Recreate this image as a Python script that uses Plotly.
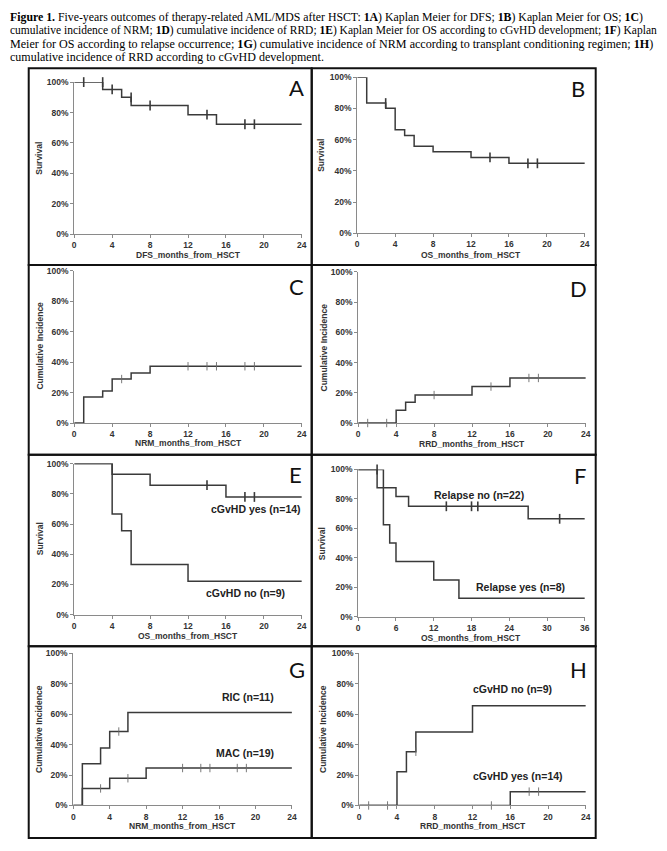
import plotly.graph_objects as go

W, H = 667, 851

# ---------------- data ----------------
# A: Kaplan Meier DFS
A_t = [0, 3, 5, 6, 12, 15, 24]
A_s = [1.0, 0.952, 0.900, 0.846, 0.786, 0.723, 0.723]
A_ct = [1, 3, 4, 6, 8, 14, 18, 19]
A_cs = [1.0, 1.0, 0.952, 0.900, 0.846, 0.786, 0.723, 0.723]

# B: Kaplan Meier OS
B_t = [0, 1, 3, 4, 5, 6, 8, 12, 16, 24]
B_s = [1.0, 0.834, 0.800, 0.663, 0.627, 0.558, 0.522, 0.486, 0.448, 0.448]
B_ct = [3, 14, 18, 19]
B_cs = [0.834, 0.486, 0.448, 0.448]

# C: cumulative incidence NRM
C_t = [0, 1, 3, 4, 6, 8, 24]
C_s = [0.0, 0.171, 0.210, 0.289, 0.328, 0.373, 0.373]
C_ct = [5, 12, 14, 15, 18, 19]
C_cs = [0.289, 0.373, 0.373, 0.373, 0.373, 0.373]

# D: cumulative incidence RRD
D_t = [0, 4, 5, 6, 12, 16, 24]
D_s = [0.0, 0.085, 0.137, 0.185, 0.241, 0.298, 0.298]
D_ct = [1, 3, 8, 14, 18, 19]
D_cs = [0.0, 0.0, 0.185, 0.241, 0.298, 0.298]

# E: OS by cGvHD
E_yes_t = [0, 4, 8, 16, 24]
E_yes_s = [1.0, 0.929, 0.857, 0.779, 0.779]
E_yes_ct = [14, 18, 19]
E_yes_cs = [0.857, 0.779, 0.779]
E_no_t = [0, 4, 5, 6, 12, 24]
E_no_s = [1.0, 0.667, 0.556, 0.333, 0.222, 0.222]

# F: OS by relapse
F_no_t = [0, 3, 6, 8, 27, 36]
F_no_s = [1.0, 0.876, 0.817, 0.750, 0.665, 0.665]
F_no_ct = [3, 14, 18, 19, 32]
F_no_cs = [1.0, 0.750, 0.750, 0.750, 0.665]
F_yes_t = [0, 4, 5, 6, 12, 16, 36]
F_yes_s = [1.0, 0.625, 0.500, 0.375, 0.250, 0.125, 0.125]

# G: NRM by conditioning
G_ric_t = [0, 1, 3, 4, 6, 24]
G_ric_s = [0.0, 0.274, 0.378, 0.486, 0.611, 0.611]
G_ric_ct = [5]
G_ric_cs = [0.486]
G_mac_t = [0, 1, 4, 8, 24]
G_mac_s = [0.0, 0.112, 0.179, 0.246, 0.246]
G_mac_ct = [3, 6, 12, 14, 15, 18, 19]
G_mac_cs = [0.112, 0.179, 0.246, 0.246, 0.246, 0.246, 0.246]

# H: RRD by cGvHD
H_no_t = [0, 4, 5, 6, 12, 24]
H_no_s = [0.0, 0.221, 0.353, 0.483, 0.656, 0.656]
H_no_ct = [6]
H_no_cs = [0.353]
H_yes_t = [0, 16, 24]
H_yes_s = [0.0, 0.091, 0.091]
H_yes_ct = [1, 3, 14, 18, 19]
H_yes_cs = [0.0, 0.0, 0.0, 0.091, 0.091]

y_ticks = [0, 0.2, 0.4, 0.6, 0.8, 1.0]

header_lines = [
    "<b>Figure 1.</b> Five-years outcomes of therapy-related AML/MDS after HSCT: <b>1A</b>) Kaplan Meier for DFS; <b>1B</b>) Kaplan Meier for OS; <b>1C</b>)",
    "cumulative incidence of NRM; <b>1D</b>) cumulative incidence of RRD; <b>1E</b>) Kaplan Meier for OS according to cGvHD development; <b>1F</b>) Kaplan",
    "Meier for OS according to relapse occurrence; <b>1G</b>) cumulative incidence of NRM according to transplant conditioning regimen; <b>1H</b>)",
    "cumulative incidence of RRD according to cGvHD development.",
]

# ---------------- layout helpers ----------------
def px(x):
    return x / W

def py(y):
    return 1 - y / H

LINE = "#3a3a3a"
AXC = "#8a8a8a"
TXT = "#333333"
SANS = "Liberation Sans"
SERIF = "Liberation Serif, Times New Roman, serif"

panels = [
    dict(name="A", area=(73, 303, 78, 232), box=(27, 313, 64, 263), xmax=24, dtick=4,
         xt="DFS_months_from_HSCT", xtp=(188, 253), yt="Survival", ytp=(38, 155), lp=(298, 83)),
    dict(name="B", area=(359, 589, 73, 231), box=(313, 600, 64, 263), xmax=24, dtick=4,
         xt="OS_months_from_HSCT", xtp=(474, 253), yt="Survival", ytp=(323, 152), lp=(582, 84)),
    dict(name="C", area=(73, 303, 269, 423), box=(27, 313, 263, 455), xmax=24, dtick=4,
         xt="NRM_months_from_HSCT", xtp=(188, 443), yt="Cumulative Incidence", ytp=(38, 345), lp=(298, 285)),
    dict(name="D", area=(360, 590, 270, 423), box=(313, 600, 263, 455), xmax=24, dtick=4,
         xt="RRD_months_from_HSCT", xtp=(475, 444), yt="Cumulative Incidence", ytp=(325, 347), lp=(583, 287)),
    dict(name="E", area=(73, 303, 464, 617), box=(27, 313, 455, 649), xmax=24, dtick=4,
         xt="OS_months_from_HSCT", xtp=(188, 638), yt="Survival", ytp=(38, 540), lp=(297, 475)),
    dict(name="F", area=(360, 589, 470, 619), box=(313, 600, 455, 649), xmax=36, dtick=6,
         xt="OS_months_from_HSCT", xtp=(474, 641), yt="Survival", ytp=(323, 545), lp=(584, 476)),
    dict(name="G", area=(72, 293, 656, 810), box=(27, 313, 649, 843), xmax=24, dtick=4,
         xt="NRM_months_from_HSCT", xtp=(182, 831), yt="Cumulative Incidence", ytp=(38, 733), lp=(298, 672)),
    dict(name="H", area=(361, 590, 656, 810), box=(313, 600, 649, 843), xmax=24, dtick=4,
         xt="RRD_months_from_HSCT", xtp=(476, 831), yt="Cumulative Incidence", ytp=(325, 733), lp=(583, 672)),
]

series = {
    "A": [(A_t, A_s, A_ct, A_cs, None, None)],
    "B": [(B_t, B_s, B_ct, B_cs, None, None)],
    "C": [(C_t, C_s, C_ct, C_cs, None, None)],
    "D": [(D_t, D_s, D_ct, D_cs, None, None)],
    "E": [(E_yes_t, E_yes_s, E_yes_ct, E_yes_cs, "cGvHD yes (n=14)", (257, 510)),
          (E_no_t, E_no_s, [], [], "cGvHD no (n=9)", (246, 595))],
    "F": [(F_no_t, F_no_s, F_no_ct, F_no_cs, "Relapse no (n=22)", (482, 496)),
          (F_yes_t, F_yes_s, [], [], "Relapse yes (n=8)", (524, 589))],
    "G": [(G_ric_t, G_ric_s, G_ric_ct, G_ric_cs, "RIC (n=11)", (249, 700)),
          (G_mac_t, G_mac_s, G_mac_ct, G_mac_cs, "MAC (n=19)", (246, 757))],
    "H": [(H_no_t, H_no_s, H_no_ct, H_no_cs, "cGvHD no (n=9)", (516, 692)),
          (H_yes_t, H_yes_s, H_yes_ct, H_yes_cs, "cGvHD yes (n=14)", (521, 780))],
}
thick_censor = {"A", "B", "E", "F"}

fig = go.Figure()
annotations = []
shapes = []
layout_axes = {}

for i, p in enumerate(panels, start=1):
    xa = "x" if i == 1 else f"x{i}"
    ya = "y" if i == 1 else f"y{i}"
    x0, x1, y0, y1 = p["area"]
    layout_axes["xaxis" if i == 1 else f"xaxis{i}"] = dict(
        domain=[px(x0), px(x1)], anchor=ya, range=[0, p["xmax"]], dtick=p["dtick"], tick0=0,
        showline=True, linecolor=AXC, linewidth=1, ticks="outside", ticklen=3, tickcolor=AXC,
        showgrid=False, zeroline=False, fixedrange=True,
        tickfont=dict(family=SANS, size=8.5, color=TXT, weight="bold"),
    )
    layout_axes["yaxis" if i == 1 else f"yaxis{i}"] = dict(
        domain=[py(y1), py(y0)], anchor=xa, range=[0, 1], tickvals=y_ticks, tickformat=".0%",
        showline=True, linecolor=AXC, linewidth=1, ticks="outside", ticklen=3, tickcolor=AXC,
        showgrid=False, zeroline=False, fixedrange=True,
        tickfont=dict(family=SANS, size=8.5, color=TXT, weight="bold"),
    )
    for (t, v, ct, cv, lab, lpos) in series[p["name"]]:
        fig.add_trace(go.Scatter(x=t, y=v, mode="lines", line=dict(color=LINE, width=1.5, shape="hv"),
                                 xaxis=xa, yaxis=ya, cliponaxis=False, showlegend=False, hoverinfo="skip"))
        if ct:
            thick = p["name"] in thick_censor
            fig.add_trace(go.Scatter(x=ct, y=cv, mode="markers",
                                     marker=dict(symbol="line-ns", size=7 if thick else 6,
                                                 line=dict(color=LINE if thick else "#6a6a6a",
                                                           width=1.6 if thick else 0.9)),
                                     xaxis=xa, yaxis=ya, cliponaxis=False, showlegend=False, hoverinfo="skip"))
        if lab:
            annotations.append(dict(x=px(lpos[0]), y=py(lpos[1]), xref="paper", yref="paper",
                                    text=lab, showarrow=False, xanchor="center", yanchor="middle",
                                    font=dict(family=SANS, size=10.5, color="#222222", weight="bold")))
    annotations.append(dict(x=px(p["xtp"][0]), y=py(p["xtp"][1]), xref="paper", yref="paper",
                            text=p["xt"], showarrow=False, xanchor="center", yanchor="middle",
                            font=dict(family=SANS, size=8.5, color=TXT, weight="bold")))
    annotations.append(dict(x=px(p["ytp"][0]), y=py(p["ytp"][1]), xref="paper", yref="paper",
                            text=p["yt"], showarrow=False, xanchor="center", yanchor="middle", textangle=-90,
                            font=dict(family=SANS, size=8.5, color=TXT, weight="bold")))
    annotations.append(dict(x=px(p["lp"][0]), y=py(p["lp"][1]), xref="paper", yref="paper",
                            text=p["name"], showarrow=False, xanchor="center", yanchor="middle",
                            font=dict(family="Lato", size=22, color="#111111")))
    bx0, bx1, by0, by1 = p["box"]
    shapes.append(dict(type="rect", xref="paper", yref="paper", x0=px(bx0), x1=px(bx1),
                       y0=py(by1), y1=py(by0), line=dict(color="#111111", width=2)))

# header caption (per-line size approximates the justified block width)
header_y = [12, 25.5, 39, 52.5]
header_size = [11.8, 11.5, 12.1, 12]
for txt, yy, sz in zip(header_lines, header_y, header_size):
    annotations.append(dict(x=px(6), y=py(yy), xref="paper", yref="paper", text=txt,
                            showarrow=False, xanchor="left", yanchor="middle",
                            font=dict(family=SERIF, size=sz, color="#000000")))

fig.update_layout(width=W, height=H, margin=dict(l=0, r=0, t=0, b=0),
                  paper_bgcolor="white", plot_bgcolor="white",
                  annotations=annotations, shapes=shapes, showlegend=False, **layout_axes)

fig.write_html("out.html", config={"displayModeBar": False},
               post_script="document.body.style.margin='0px';")
